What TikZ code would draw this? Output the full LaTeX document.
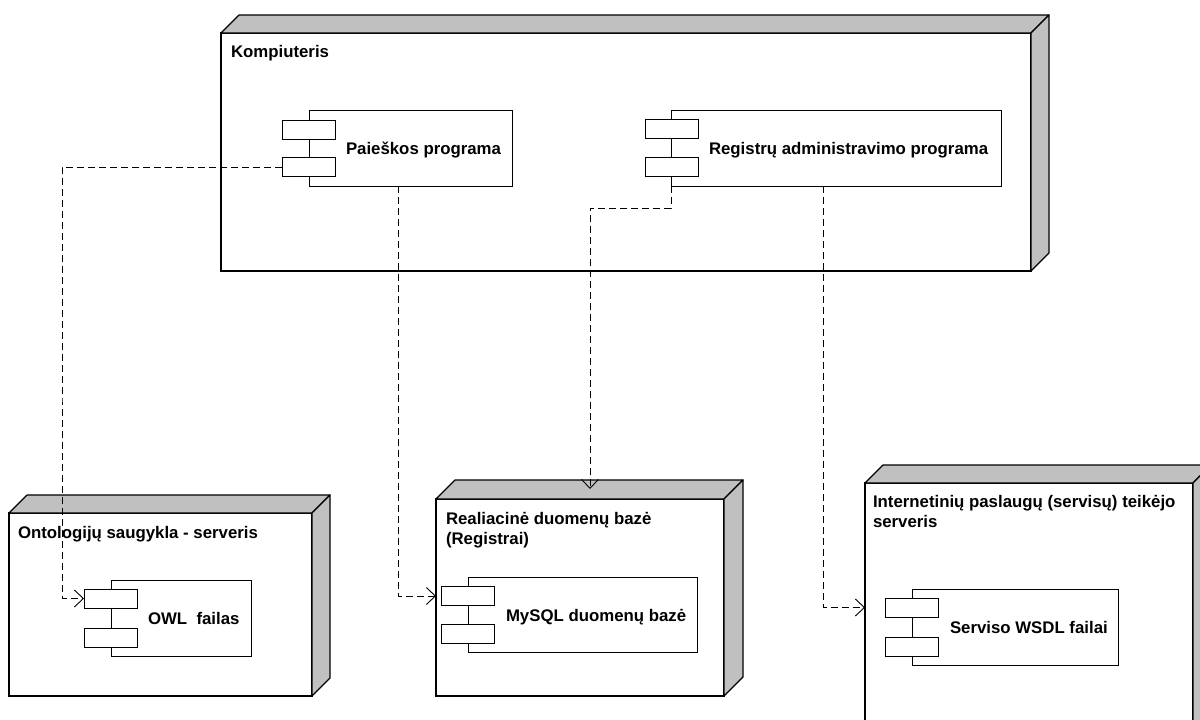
\documentclass[tikz,border=0pt]{standalone}
\usepackage{fontspec}
\setmainfont{Liberation Sans}
\usetikzlibrary{arrows.meta}
\definecolor{shade}{HTML}{C0C0C0}
\tikzset{
  frontface/.style={draw=black, fill=white, line width=1.2pt, inner sep=0pt, outer sep=0pt},
  depthface/.style={draw=black, fill=shade, line width=1.2pt, line join=round},
  comp/.style={draw=black, fill=white, line width=1pt, inner sep=0pt, outer sep=0pt},
  port/.style={draw=black, fill=white, line width=1pt, minimum width=53pt, minimum height=19pt, inner sep=0pt, outer sep=0pt},
  dep/.style={draw=black, line width=0.9pt, dash pattern=on 7pt off 4pt, -{Straight Barb[length=9pt,width=17pt]}},
  txt/.style={anchor=base west, inner sep=0pt, outer sep=0pt, align=left, font=\bfseries\fontsize{16.8}{20}\selectfont},
}
\begin{document}
\begin{tikzpicture}[x=1pt,y=-1pt]
\useasboundingbox (0,0) rectangle (1200,720);
\fill[white] (0,0) rectangle (1200,720);
\clip (0,0) rectangle (1200,720);

% ---------- Kompiuteris ----------
\node[frontface, minimum width=810pt, minimum height=238pt] (komp) at (626,152) {};
\filldraw[depthface] (komp.north west) -- ++(18,-18) -- ([shift={(18,-18)}]komp.north east) -- (komp.north east) -- cycle;
\filldraw[depthface] (komp.north east) -- ++(18,-18) -- ([shift={(18,-18)}]komp.south east) -- (komp.south east) -- cycle;
\node[txt] (kompt) at (231,57) {Kompiuteris};

% ---------- Ontology server ----------
\node[frontface, minimum width=303pt, minimum height=183pt] (onto) at (160.5,604.5) {};
\filldraw[depthface] (onto.north west) -- ++(18,-18) -- ([shift={(18,-18)}]onto.north east) -- (onto.north east) -- cycle;
\filldraw[depthface] (onto.north east) -- ++(18,-18) -- ([shift={(18,-18)}]onto.south east) -- (onto.south east) -- cycle;
\node[txt] (ontot) at (18,538) {Ontologijų saugykla - serveris};

% ---------- Relational DB ----------
\node[frontface, minimum width=288pt, minimum height=197pt] (rel) at (580,597.5) {};
\filldraw[depthface] (rel.north west) -- ++(19,-19) -- ([shift={(19,-19)}]rel.north east) -- (rel.north east) -- cycle;
\filldraw[depthface] (rel.north east) -- ++(19,-19) -- ([shift={(19,-19)}]rel.south east) -- (rel.south east) -- cycle;
\node[txt] (relt) at (446,544) {Realiacinė duomenų bazė\\(Registrai)};

% ---------- Internet services server ----------
\node[frontface, minimum width=328pt, minimum height=277pt] (inet) at (1029,621.5) {};
\filldraw[depthface] (inet.north west) -- ++(18,-18) -- ([shift={(18,-18)}]inet.north east) -- (inet.north east) -- cycle;
\filldraw[depthface] (inet.north east) -- ++(18,-18) -- ([shift={(18,-18)}]inet.south east) -- (inet.south east) -- cycle;
\node[txt] (inett) at (873,527) {Internetinių paslaugų (servisų) teikėjo\\serveris};

% ---------- Components ----------
\node[comp, minimum width=203pt, minimum height=76pt] (P) at (410.5,148) {};
\node[port] (Pp1) at (308.5,129.5) {};
\node[port] (Pp2) at (308.5,167) {};
\node[txt] (Pt) at (346,154) {Paieškos programa};

\node[comp, minimum width=330pt, minimum height=76pt] (R) at (836,148) {};
\node[port] (Rp1) at (671.5,128.5) {};
\node[port] (Rp2) at (671.5,167) {};
\node[txt] (Rt) at (709,154) {Registrų administravimo programa};

\node[comp, minimum width=140pt, minimum height=76pt] (O) at (181,618) {};
\node[port] (Op1) at (110.5,598.5) {};
\node[port] (Op2) at (110.5,637.5) {};
\node[txt] (Ot) at (148,624) {OWL\ \ failas};

\node[comp, minimum width=229pt, minimum height=75pt] (M) at (582.5,614.5) {};
\node[port] (Mp1) at (468,596) {};
\node[port] (Mp2) at (468,633.5) {};
\node[txt] (Mt) at (506,621) {MySQL duomenų bazė};

\node[comp, minimum width=206pt, minimum height=76pt] (W) at (1015,627) {};
\node[port] (Wp1) at (911.5,607.5) {};
\node[port] (Wp2) at (911.5,646.5) {};
\node[txt] (Wt) at (950,633) {Serviso WSDL failai};

% ---------- Connectors ----------
\coordinate (bend1) at (62,400);
\coordinate (mtop) at (590,489);
\draw[dep] (Pp2.west) -| (bend1) |- (Op1.west);
\draw[dep] ([xshift=-12.5pt]P.south) |- (Mp1.west -| rel.west);
\draw[dep] (R.south west) -- ++(0,22) -| (mtop);
\draw[dep] ([xshift=-13pt]R.south) |- (Wp1.west -| inet.west);
\end{tikzpicture}
\end{document}
